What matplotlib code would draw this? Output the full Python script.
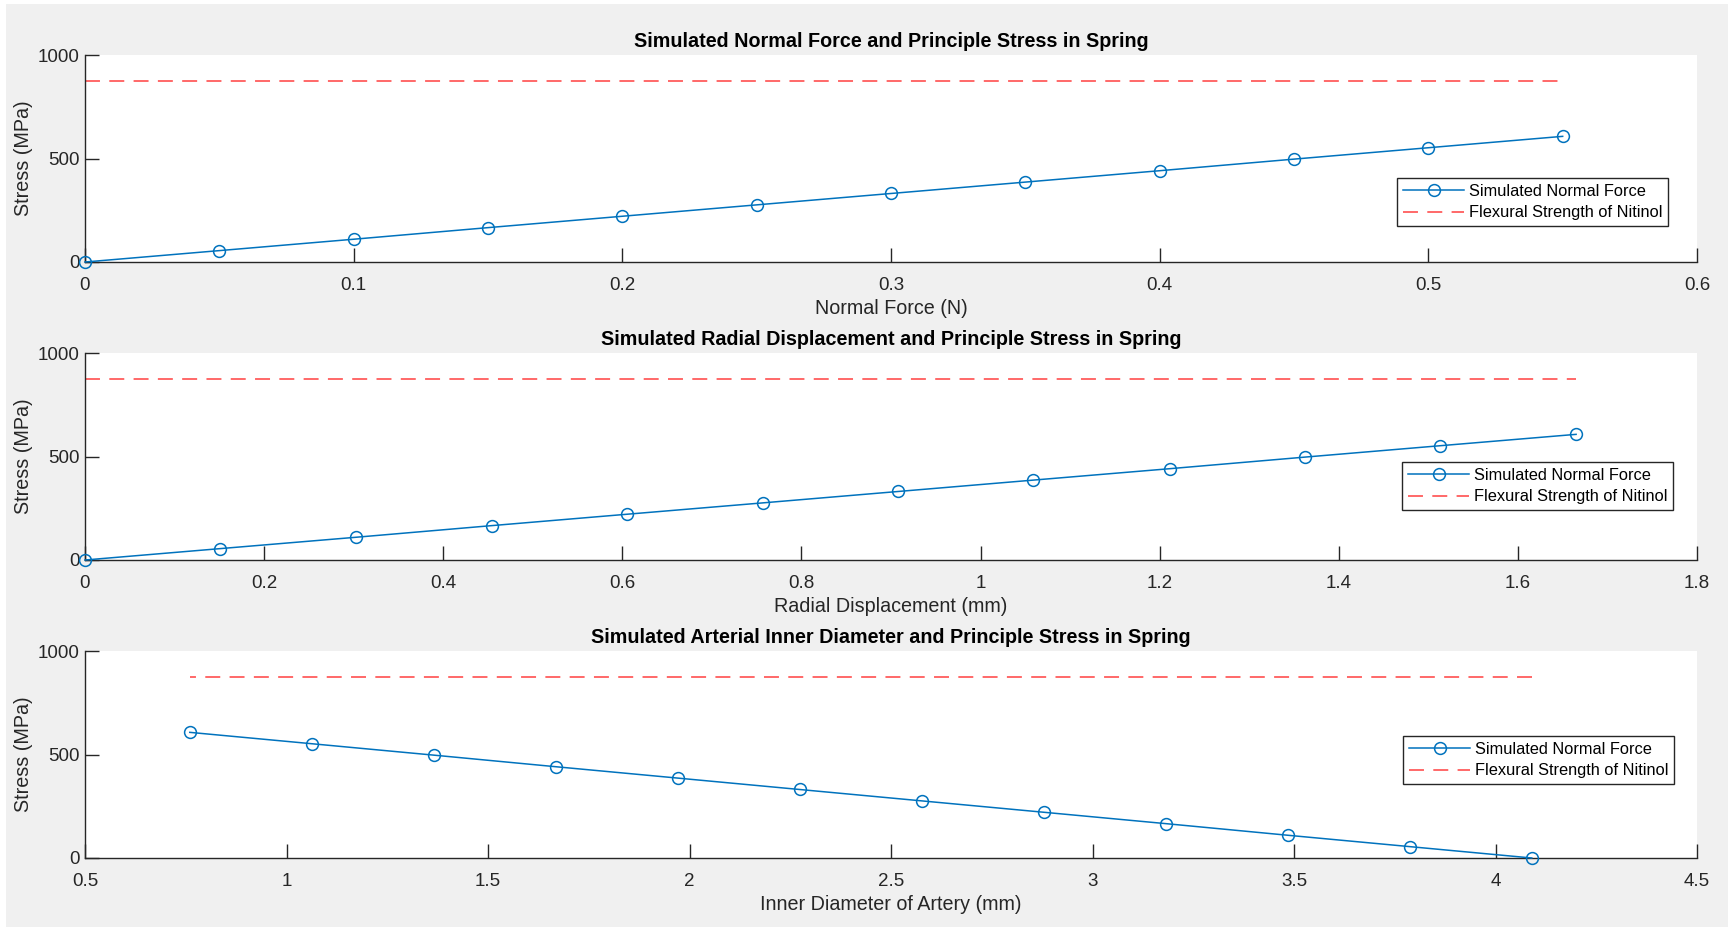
import matplotlib
matplotlib.use("Agg")
import matplotlib.pyplot as plt
from matplotlib.patches import Rectangle

plt.rcParams['font.family'] = ['Liberation Sans', 'DejaVu Sans']

# ---- data ----
normal_force = [0, 0.05, 0.10, 0.15, 0.20, 0.25, 0.30, 0.35, 0.40, 0.45, 0.50, 0.55]
radial_disp = [0, 0.151, 0.303, 0.454, 0.605, 0.757, 0.908, 1.059, 1.211, 1.362, 1.513, 1.665]
inner_diam = [4.09, 3.787, 3.484, 3.182, 2.879, 2.576, 2.273, 1.971, 1.668, 1.365, 1.063, 0.76]
stress = [0, 55, 110, 166, 221, 276, 331, 386, 441, 497, 552, 607]
flexural_strength = 875

titles = ["Simulated Normal Force and Principle Stress in Spring",
          "Simulated Radial Displacement and Principle Stress in Spring",
          "Simulated Arterial Inner Diameter and Principle Stress in Spring"]
xlabels = ["Normal Force (N)", "Radial Displacement (mm)", "Inner Diameter of Artery (mm)"]
xlims = [(0, 0.6), (0, 1.8), (0.5, 4.5)]
xticks = [[0, 0.1, 0.2, 0.3, 0.4, 0.5, 0.6],
          [0, 0.2, 0.4, 0.6, 0.8, 1, 1.2, 1.4, 1.6, 1.8],
          [0.5, 1, 1.5, 2, 2.5, 3, 3.5, 4, 4.5]]
xticklabels = [["0", "0.1", "0.2", "0.3", "0.4", "0.5", "0.6"],
               ["0", "0.2", "0.4", "0.6", "0.8", "1", "1.2", "1.4", "1.6", "1.8"],
               ["0.5", "1", "1.5", "2", "2.5", "3", "3.5", "4", "4.5"]]
yticks = [0, 500, 1000]
legend_labels = ["Simulated Normal Force", "Flexural Strength of Nitinol"]
xdata = [normal_force, radial_disp, inner_diam]

W, H = 1728, 927
fig = plt.figure(figsize=(W / 100, H / 100), dpi=100, facecolor='white')
fig.patches.append(Rectangle((6 / W, 0), 1 - 6 / W, 1 - 4 / H, transform=fig.transFigure,
                             facecolor='#f0f0f0', edgecolor='none', zorder=-10))

left, right = 85, 1697
tops = [55, 353, 651]
ah = 207
# legend boxes (full px): right, bottom
leg_rb = [(1668, 226), (1673, 510), (1674, 784)]
axis_col = '#262626'

for i in range(3):
    ax = fig.add_axes([left / W, (H - tops[i] - ah) / H, (right - left) / W, ah / H])
    ax.set_facecolor('white')
    x = xdata[i]
    ax.plot(x, stress, color='#0072BD', lw=1.1, marker='o', ms=8.5,
            mfc='none', mec='#0072BD', mew=1.1, label=legend_labels[0], clip_on=False, zorder=3)
    ax.plot([x[0], x[-1]], [flexural_strength, flexural_strength], color='#ff0000', lw=1.1,
            dashes=(9.8, 6.1), label=legend_labels[1], alpha=0.75)
    ax.set_xlim(*xlims[i])
    ax.set_ylim(0, 1000)
    ax.set_xticks(xticks[i])
    ax.set_xticklabels(xticklabels[i])
    ax.set_yticks(yticks)
    for s in ['top', 'right']:
        ax.spines[s].set_visible(False)
    for s in ['left', 'bottom']:
        ax.spines[s].set_color(axis_col)
        ax.spines[s].set_linewidth(1.0)
    ax.tick_params(direction='in', length=10, width=1.0, colors=axis_col,
                   labelsize=13.5, labelcolor=axis_col)
    ax.tick_params(axis='x', pad=10.5)
    ax.tick_params(axis='y', pad=4)
    ax.set_title(titles[i], fontsize=14.2, fontweight='bold', color='black', pad=6)
    ax.set_xlabel(xlabels[i], fontsize=14.2, color=axis_col, labelpad=4)
    ax.set_ylabel("Stress (MPa)", fontsize=14.2, color=axis_col, labelpad=3)
    rx, by = leg_rb[i]
    anchor = ((rx - left) / (right - left), (tops[i] + ah - by) / ah)
    leg = ax.legend(loc='lower right', bbox_to_anchor=anchor, fontsize=11.8,
                    frameon=True, fancybox=False, framealpha=1, edgecolor=axis_col,
                    handlelength=3.7, borderpad=0.35, labelspacing=0.4, handletextpad=0.3,
                    borderaxespad=0)
    leg.get_frame().set_linewidth(1.0)
    for t in leg.get_texts():
        t.set_color('black')

fig.savefig("out.png", dpi=100, facecolor=fig.get_facecolor())
